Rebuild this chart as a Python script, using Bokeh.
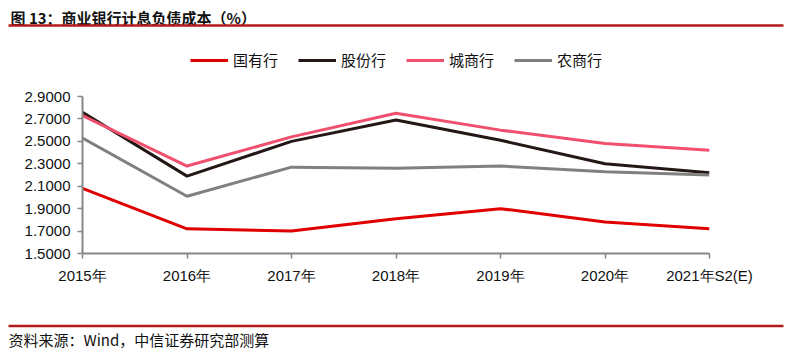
from bokeh.plotting import figure
from bokeh.layouts import column
from bokeh.models import (Range1d, FixedTicker, NumeralTickFormatter, Legend, LegendItem)
from bokeh.core.properties import value
from bokeh.embed import file_html
from bokeh.resources import INLINE

years = ["2015年", "2016年", "2017年", "2018年", "2019年", "2020年", "2021年S2(E)"]
state_owned = [2.08, 1.72, 1.70, 1.81, 1.90, 1.78, 1.72]
joint_stock = [2.76, 2.19, 2.50, 2.69, 2.51, 2.30, 2.22]
city_banks = [2.73, 2.28, 2.54, 2.75, 2.60, 2.48, 2.42]
rural_banks = [2.53, 2.01, 2.27, 2.26, 2.28, 2.23, 2.20]
series_names = ["国有行", "股份行", "城商行", "农商行"]
series_colors = ["#E00000", "#231815", "#F0506E", "#808080"]
y_ticks = [1.5, 1.7, 1.9, 2.1, 2.3, 2.5, 2.7, 2.9]
title_text = "图 13：商业银行计息负债成本（%）"
source_text = "资料来源：Wind，中信证券研究部测算"

W = 791
CJK = "Noto Sans CJK SC"
RULE = "#B31B1B"
TXT = "#111111"
NAN = float("nan")


def banner(height):
    f = figure(width=W, height=height, output_backend="svg", toolbar_location=None,
               x_range=Range1d(0, W), y_range=Range1d(height, 0),
               min_border=0, outline_line_color=None)
    f.axis.visible = False
    f.grid.visible = False
    f.frame_align = False
    return f


# ---- header: title, rule, legend
TOP_H = 76
top = banner(TOP_H)
top.text(x=[10], y=[17], text=[title_text], text_font=value(CJK), text_font_size="15px",
         text_font_style="bold", text_color=TXT, text_baseline="middle")
top.line(x=[8, 783], y=[25, 25], line_color=RULE, line_width=2.5)
items = []
for name, col in zip(series_names, series_colors):
    # legend key only (no data drawn in the header)
    r = top.line(x=[NAN], y=[NAN], line_color=col, line_width=3)
    items.append(LegendItem(label=name, renderers=[r]))
legend = Legend(items=items, orientation="horizontal", location=(190, 6),
                label_text_font=CJK, label_text_font_size="15px",
                label_text_color=TXT, glyph_width=38, glyph_height=16,
                label_standoff=5, spacing=20, padding=0, margin=0,
                border_line_color=None, background_fill_alpha=0)
top.add_layout(legend, "center")

# ---- main chart
H = 242
BL, BR, BT, BB = 82, 82, 20, 65
xs = list(range(len(years)))
p = figure(width=W, height=H, output_backend="svg", toolbar_location=None,
           x_range=Range1d(0, len(years) - 1), y_range=Range1d(y_ticks[0], y_ticks[-1]),
           min_border_left=BL, min_border_right=BR, min_border_top=BT, min_border_bottom=BB)
p.frame_align = False
p.outline_line_color = None
p.xgrid.visible = False
p.ygrid.visible = False

for name, col, ys in zip(series_names, series_colors,
                         [state_owned, joint_stock, city_banks, rural_banks]):
    p.line(xs, ys, line_color=col, line_width=3)

for ax in (p.xaxis[0], p.yaxis[0]):
    ax.axis_line_color = "#878787"
    ax.axis_line_width = 2
    ax.major_tick_line_color = "#878787"
    ax.major_tick_line_width = 1.5
    ax.major_tick_in = 0
    ax.major_tick_out = 5
    ax.minor_tick_line_color = None
    ax.major_label_text_font = "Liberation Sans"
    ax.major_label_text_font_size = "15px"
    ax.major_label_text_color = TXT

p.yaxis[0].ticker = FixedTicker(ticks=y_ticks)
p.yaxis[0].formatter = NumeralTickFormatter(format="0.0000")
p.yaxis[0].major_label_standoff = 7

p.xaxis[0].ticker = FixedTicker(ticks=xs)
p.xaxis[0].major_label_overrides = {i: y for i, y in enumerate(years)}
p.xaxis[0].major_label_standoff = 8

# ---- footer: rule and source
BOT_H = 360 - TOP_H - H
bottom = banner(BOT_H)
bottom.line(x=[8, 783], y=[7.5, 7.5], line_color=RULE, line_width=2.5)
bottom.text(x=[8], y=[21], text=[source_text], text_font=value(CJK), text_font_size="15px",
            text_color=TXT, text_baseline="middle")

layout = column(top, p, bottom, spacing=0)
open("out.html", "w").write(file_html(layout, INLINE))
